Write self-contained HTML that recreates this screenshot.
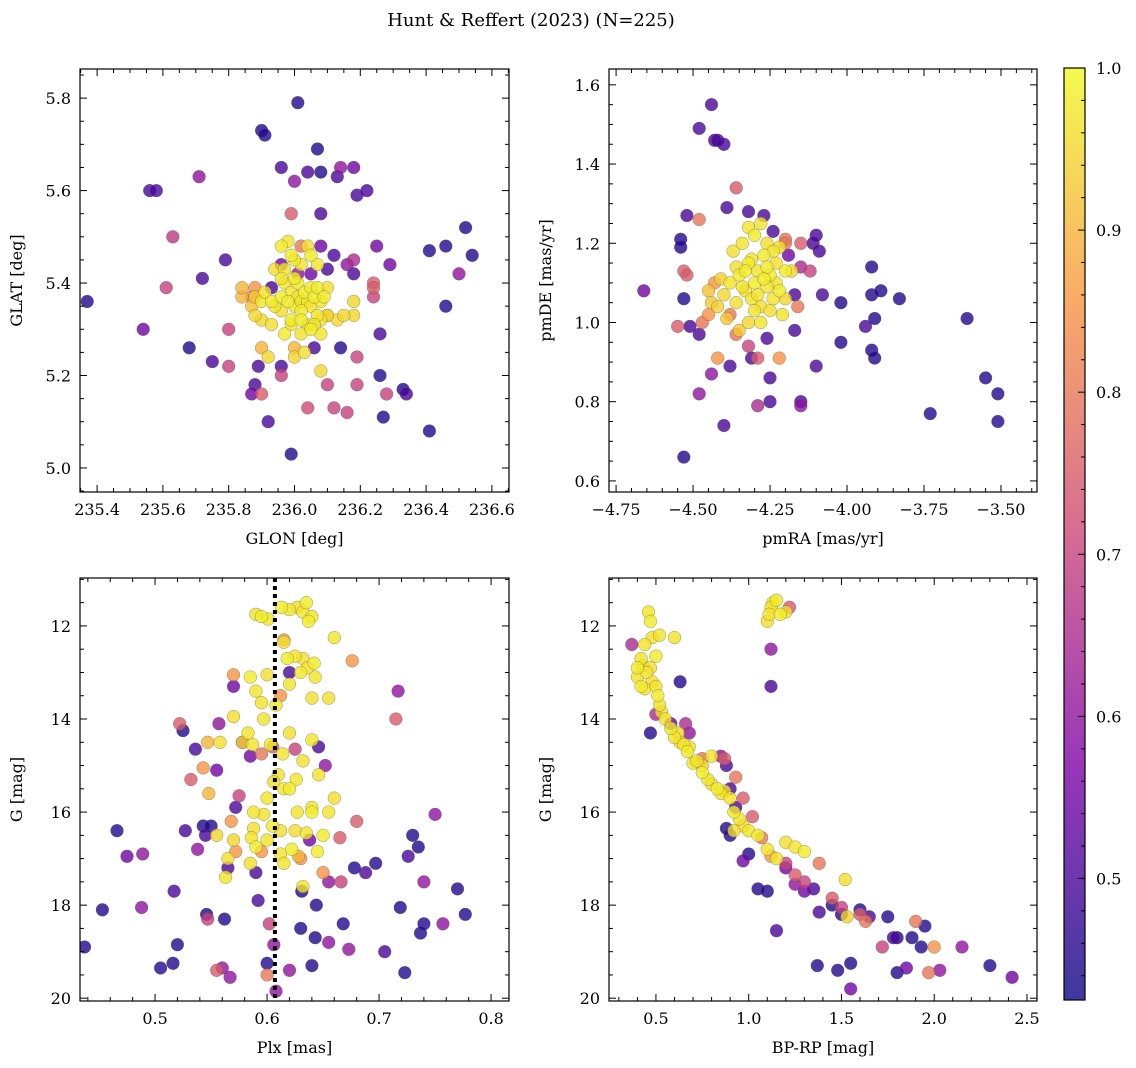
<!DOCTYPE html>
<html><head><meta charset="utf-8">
<style>
html,body{margin:0;padding:0;background:#fff;}
svg{display:block;font-family:"DejaVu Serif","Liberation Serif",serif;}
</style></head>
<body>
<svg id="chart" width="1136" height="1068" viewBox="0 0 1136 1068" xmlns="http://www.w3.org/2000/svg">
<defs>
<linearGradient id="cbgrad" x1="0" y1="1" x2="0" y2="0">
<stop offset="0" stop-color="#0d0887"/><stop offset="0.25" stop-color="#7e03a8"/><stop offset="0.5" stop-color="#cc4778"/><stop offset="0.75" stop-color="#f89540"/><stop offset="1" stop-color="#f0f921"/>
</linearGradient>
</defs>
<text x="531" y="26" font-size="18" text-anchor="middle">Hunt &amp; Reffert (2023) (N=225)</text>
</svg>
<script>
// ---- data ----
const p1x=[235.37,235.54,235.56,235.58,235.61,235.63,235.68,235.71,235.72,235.75,235.80,235.80,235.79,235.88,235.87,235.90,235.91,235.92,235.90,235.96,235.96,235.99,236.00,236.01,236.04,236.07,236.08,236.08,236.13,236.14,236.18,236.19,236.22,236.25,236.29,236.26,236.26,236.27,236.28,236.33,236.34,236.41,236.41,236.46,236.46,236.50,236.52,236.54,236.16,236.19,236.19,236.12,236.04,236.10,236.06,236.14,235.99,235.89,235.96,236.18,236.24,236.24,236.24,236.16,236.10,236.18,235.96,236.01,236.05,235.93,236.08,236.12,236.02,235.88,235.87,236.08,236.10,
235.90,235.91,235.93,235.94,235.96,235.96,235.97,235.98,235.99,235.99,236.00,236.01,236.01,236.02,236.02,236.03,236.04,236.04,236.05,236.05,236.06,236.07,236.07,236.08,236.08,236.09,235.97,235.99,236.02,236.04,235.96,235.98,236.00,236.05,236.07,235.94,235.97,236.02,236.05,236.08,235.93,235.90,235.87,235.88,236.00,236.03,236.02,235.99,236.06,236.10,235.96,236.00,236.18,236.13,236.18,236.15,235.84,235.84,235.88,235.90,236.00,235.92,236.10];
const p1y=[5.36,5.30,5.60,5.60,5.39,5.50,5.26,5.63,5.41,5.23,5.30,5.22,5.45,5.18,5.16,5.73,5.72,5.10,5.16,5.65,5.22,5.03,5.62,5.79,5.64,5.69,5.64,5.55,5.63,5.65,5.65,5.59,5.60,5.48,5.44,5.29,5.20,5.11,5.16,5.17,5.16,5.08,5.47,5.48,5.35,5.42,5.52,5.46,5.12,5.18,5.24,5.13,5.13,5.18,5.26,5.26,5.55,5.22,5.20,5.45,5.40,5.39,5.37,5.44,5.43,5.42,5.44,5.42,5.42,5.39,5.48,5.46,5.48,5.39,5.37,5.21,5.33,
5.36,5.38,5.36,5.35,5.37,5.34,5.40,5.36,5.38,5.32,5.35,5.40,5.37,5.34,5.36,5.38,5.31,5.36,5.39,5.35,5.37,5.33,5.39,5.36,5.32,5.37,5.43,5.46,5.44,5.48,5.48,5.49,5.45,5.46,5.44,5.43,5.29,5.29,5.30,5.29,5.31,5.32,5.35,5.37,5.24,5.25,5.32,5.31,5.31,5.39,5.41,5.41,5.36,5.32,5.33,5.33,5.37,5.39,5.33,5.26,5.26,5.24,5.33];
const p1p=[0.45,0.55,0.5,0.5,0.7,0.68,0.45,0.6,0.5,0.5,0.7,0.7,0.5,0.5,0.55,0.45,0.45,0.5,0.75,0.5,0.5,0.45,0.6,0.45,0.5,0.45,0.45,0.5,0.5,0.6,0.55,0.5,0.5,0.55,0.55,0.5,0.45,0.45,0.7,0.45,0.5,0.45,0.45,0.45,0.45,0.6,0.45,0.45,0.7,0.7,0.7,0.7,0.72,0.7,0.5,0.45,0.75,0.5,0.7,0.65,0.75,0.75,0.7,0.6,0.5,0.5,0.55,0.6,0.55,0.5,0.55,0.5,0.8,0.85,0.82,0.95,0.92,
0.97,0.97,0.98,0.97,0.98,0.96,0.97,0.98,0.97,0.98,0.97,0.98,0.97,0.98,0.97,0.98,0.96,0.97,0.98,0.97,0.98,0.97,0.98,0.97,0.96,0.98,0.97,0.98,0.97,0.96,0.98,0.97,0.97,0.98,0.97,0.96,0.98,0.97,0.98,0.97,0.96,0.95,0.92,0.93,0.95,0.96,0.98,0.97,0.97,0.96,0.97,0.98,0.95,0.95,0.95,0.95,0.9,0.9,0.95,0.9,0.9,0.95,0.95];

const p2x=[-4.66,-4.54,-4.54,-4.53,-4.52,-4.53,-4.52,-4.53,-4.55,-4.51,-4.48,-4.44,-4.43,-4.42,-4.40,-4.48,-4.48,-4.48,-4.44,-4.42,-4.38,-4.40,-4.39,-4.36,-4.32,-4.32,-4.29,-4.27,-4.25,-4.25,-4.26,-4.31,-4.29,-4.22,-4.24,-4.19,-4.17,-4.17,-4.16,-4.15,-4.20,-4.15,-4.15,-4.11,-4.10,-4.10,-4.09,-4.08,-4.02,-4.02,-3.94,-3.92,-3.92,-3.91,-3.92,-3.91,-3.89,-3.83,-3.73,-3.61,-3.55,-3.51,-3.51,
-4.43,-4.45,-4.47,-4.38,-4.20,-4.15,-4.12,-4.36,
-4.38,-4.36,-4.35,-4.33,-4.32,-4.31,-4.30,-4.29,-4.28,-4.27,-4.26,-4.25,-4.24,-4.23,-4.22,-4.21,-4.20,-4.40,-4.42,-4.44,-4.37,-4.34,-4.30,-4.28,-4.26,-4.32,-4.28,-4.35,-4.25,-4.33,-4.29,-4.27,-4.31,-4.36,-4.24,-4.18,-4.22,-4.39,-4.41,-4.30,-4.26,-4.34,-4.23,-4.45,-4.32,-4.20];
const p2y=[1.08,1.21,1.19,0.66,1.27,1.06,1.12,1.13,0.99,0.99,1.49,1.55,1.46,1.46,1.45,1.26,0.97,0.82,0.87,0.91,0.89,0.74,1.29,1.34,1.28,0.94,0.79,1.27,0.86,0.80,0.96,0.91,0.91,0.91,1.23,1.17,1.07,0.98,1.04,1.14,1.21,0.80,0.79,1.20,1.22,0.89,1.18,1.07,1.05,0.95,0.99,1.14,1.07,1.01,0.93,0.91,1.08,1.06,0.77,1.01,0.86,0.82,0.75,
1.10,1.02,1.00,1.02,1.20,1.20,1.13,0.97,
1.10,1.05,1.12,1.08,1.15,1.06,1.10,1.13,1.04,1.17,1.09,1.12,1.06,1.15,1.08,1.02,1.13,1.07,1.04,1.05,1.18,1.20,1.22,1.25,1.20,1.00,1.00,0.98,1.03,1.13,1.07,1.11,1.16,1.14,1.18,1.13,1.19,1.01,1.11,1.03,1.14,1.09,1.10,1.08,1.24,1.06];
const p2p=[0.55,0.45,0.45,0.45,0.5,0.45,0.75,0.75,0.75,0.5,0.5,0.5,0.5,0.5,0.5,0.8,0.5,0.6,0.6,0.85,0.5,0.5,0.5,0.75,0.5,0.7,0.65,0.5,0.5,0.5,0.5,0.5,0.75,0.85,0.5,0.55,0.5,0.5,0.8,0.65,0.8,0.5,0.6,0.5,0.5,0.5,0.5,0.5,0.45,0.45,0.5,0.45,0.45,0.45,0.45,0.45,0.45,0.45,0.45,0.45,0.45,0.45,0.45,
0.85,0.85,0.8,0.8,0.8,0.75,0.7,0.8,
0.97,0.96,0.98,0.97,0.98,0.97,0.98,0.97,0.96,0.98,0.97,0.98,0.97,0.96,0.98,0.97,0.98,0.95,0.94,0.93,0.96,0.97,0.98,0.97,0.96,0.95,0.97,0.93,0.96,0.98,0.97,0.98,0.97,0.96,0.97,0.95,0.96,0.93,0.94,0.97,0.98,0.97,0.96,0.92,0.97,0.95];

const p3x=[0.437,0.453,0.466,0.475,0.488,0.489,0.505,0.516,0.517,0.520,0.522,0.525,0.527,0.532,0.536,0.538,0.543,0.545,0.546,0.547,0.550,0.555,0.557,0.560,0.562,0.565,0.567,0.570,0.572,0.575,0.578,0.585,0.590,0.592,0.600,0.602,0.606,0.608,0.620,0.620,0.630,0.631,0.638,0.640,0.644,0.643,0.646,0.652,0.655,0.655,0.665,0.666,0.668,0.673,0.678,0.680,0.688,0.697,0.705,0.715,0.717,0.719,0.723,0.726,0.730,0.735,0.737,0.740,0.740,0.750,0.757,0.770,0.777,
0.590,0.595,0.601,0.613,0.620,0.627,0.635,0.632,0.637,0.640,0.615,0.660,0.618,0.625,0.632,0.630,0.636,0.642,0.643,0.640,0.620,0.585,0.590,0.600,0.595,0.608,0.597,0.570,0.583,0.578,0.587,0.558,0.603,0.614,0.620,0.626,0.620,0.615,0.632,0.646,0.640,0.600,0.610,0.597,0.605,0.588,0.588,0.586,0.590,0.600,0.612,0.612,0.622,0.627,0.625,0.640,0.650,0.655,0.660,0.635,0.645,0.615,0.606,0.570,0.565,0.563,0.555,0.585,0.632,0.655,0.640,
0.543,0.548,0.547,0.568,0.572,0.595,0.605,0.595,0.570,0.676,0.615,0.630,0.612,0.628,0.650,0.600,0.555,0.625];
const p3y=[18.9,18.1,16.4,16.95,18.05,16.9,19.35,19.25,17.7,18.85,14.1,14.25,16.4,15.3,14.65,16.8,16.3,16.5,18.2,18.3,16.3,15.1,14.1,19.35,18.3,17.2,19.55,13.3,15.9,15.65,14.5,14.8,17.3,17.9,19.25,18.4,18.85,19.85,19.4,13.0,18.5,17.7,16.6,19.3,18.0,18.7,14.6,15.0,18.8,17.5,16.55,17.5,18.4,18.95,17.2,16.2,17.3,17.1,19.0,14.0,13.4,18.05,19.45,16.95,16.5,16.75,18.6,17.5,18.4,16.05,18.4,17.65,18.2,
11.75,11.8,11.85,11.6,11.65,11.6,11.5,11.7,11.9,11.8,12.35,12.25,12.7,12.65,12.7,13.0,12.9,12.8,13.1,13.55,13.25,13.1,13.4,13.05,13.65,13.7,14.0,13.95,14.3,14.5,14.55,14.5,14.55,14.75,14.3,15.3,15.5,15.5,14.9,15.2,16.0,15.7,15.2,16.05,16.3,16.0,16.35,16.55,16.75,16.6,16.4,16.9,16.8,16.0,16.4,15.9,16.5,16.0,15.7,16.45,16.85,17.1,15.35,16.6,17.0,17.4,16.5,17.1,17.6,13.55,14.45,
15.05,15.6,14.5,16.2,16.85,16.85,14.6,14.75,13.05,12.75,12.3,17.0,13.5,16.95,17.3,19.5,19.4,14.65];
const p3p=[0.45,0.45,0.45,0.55,0.6,0.6,0.45,0.45,0.5,0.45,0.75,0.45,0.5,0.75,0.5,0.6,0.45,0.5,0.45,0.7,0.45,0.55,0.6,0.6,0.45,0.5,0.6,0.55,0.5,0.7,0.6,0.55,0.5,0.5,0.45,0.7,0.6,0.6,0.6,0.5,0.45,0.45,0.55,0.45,0.45,0.45,0.5,0.6,0.6,0.6,0.75,0.7,0.45,0.6,0.45,0.75,0.5,0.45,0.5,0.75,0.6,0.45,0.45,0.5,0.45,0.45,0.45,0.6,0.45,0.6,0.6,0.45,0.45,
0.97,0.98,0.97,0.98,0.97,0.96,0.98,0.97,0.98,0.97,0.96,0.97,0.98,0.97,0.96,0.98,0.97,0.98,0.97,0.96,0.97,0.98,0.97,0.96,0.97,0.98,0.97,0.96,0.97,0.95,0.97,0.96,0.98,0.97,0.96,0.97,0.98,0.97,0.96,0.97,0.98,0.97,0.96,0.97,0.98,0.97,0.96,0.97,0.98,0.97,0.96,0.97,0.98,0.97,0.96,0.97,0.98,0.97,0.96,0.97,0.98,0.97,0.96,0.95,0.96,0.97,0.95,0.96,0.97,0.96,0.97,
0.85,0.9,0.9,0.85,0.85,0.85,0.75,0.8,0.85,0.85,0.85,0.85,0.85,0.9,0.85,0.8,0.75,0.7];

const p4x=[0.46,0.47,0.52,0.48,0.42,0.40,0.40,0.43,0.45,0.42,0.44,0.48,0.50,0.50,0.60,0.47,0.44,0.51,0.52,0.53,0.55,0.58,0.60,0.63,0.65,0.67,0.70,0.68,0.72,0.75,0.78,0.80,0.80,0.83,0.85,0.87,0.90,0.92,0.95,0.97,1.00,1.05,1.10,1.20,1.25,1.30,1.15,1.52,1.53,1.13,1.15,1.12,1.10,1.11,1.17,1.20,0.62,0.92,0.75,
0.75,0.87,0.93,0.97,1.02,1.07,1.12,1.20,1.25,1.30,1.38,1.45,1.50,1.60,1.63,1.90,1.97,2.00,1.22,0.66,0.50,
0.37,0.47,0.63,0.58,0.68,0.85,0.88,0.90,0.93,0.88,0.90,0.97,1.05,1.10,1.15,1.12,1.12,1.20,1.25,1.30,1.35,1.37,1.45,1.50,1.48,1.55,1.55,1.60,1.65,1.75,1.78,1.80,1.80,1.85,1.88,1.93,1.95,2.03,2.15,2.30,2.42,1.72,1.00,1.38];
const p4y=[11.7,11.9,12.2,12.25,12.7,12.9,13.1,12.85,13.0,13.3,13.35,13.2,13.3,12.65,12.25,12.9,12.4,13.5,13.7,13.85,14.0,14.2,14.4,14.5,14.55,14.7,14.95,14.6,14.9,15.15,15.3,15.4,14.8,15.5,15.6,15.55,15.7,16.0,16.15,16.3,16.4,16.5,16.8,16.65,16.75,16.85,17.0,17.45,18.25,11.5,11.45,11.6,11.9,11.75,11.75,11.7,14.3,16.4,15.0,
14.85,14.85,15.25,15.7,16.1,16.55,16.95,17.1,17.35,17.5,17.1,17.85,18.05,18.2,18.35,18.35,19.45,18.9,11.6,14.1,13.9,
12.4,14.3,13.2,14.1,14.3,14.8,15.0,15.5,15.9,16.35,16.5,17.05,17.65,17.7,18.55,12.5,13.3,17.2,17.55,17.7,17.65,19.3,18.0,18.2,19.4,19.25,19.8,18.1,18.25,18.25,18.7,18.7,19.45,19.35,18.7,18.9,18.45,19.4,18.9,19.3,19.55,18.9,16.9,18.15];
const p4p=[0.97,0.98,0.97,0.96,0.97,0.98,0.97,0.96,0.97,0.98,0.97,0.96,0.97,0.98,0.97,0.96,0.97,0.98,0.97,0.96,0.97,0.98,0.97,0.96,0.97,0.98,0.97,0.96,0.97,0.98,0.97,0.96,0.97,0.98,0.97,0.96,0.97,0.98,0.97,0.96,0.97,0.98,0.97,0.96,0.97,0.98,0.97,0.96,0.95,0.97,0.98,0.97,0.96,0.97,0.98,0.96,0.95,0.96,0.95,
0.8,0.75,0.8,0.75,0.75,0.8,0.85,0.7,0.75,0.7,0.8,0.75,0.7,0.75,0.8,0.8,0.8,0.85,0.75,0.65,0.65,
0.65,0.45,0.45,0.55,0.6,0.6,0.5,0.5,0.5,0.45,0.45,0.55,0.45,0.45,0.5,0.6,0.5,0.55,0.6,0.55,0.5,0.45,0.45,0.45,0.45,0.45,0.55,0.45,0.5,0.45,0.5,0.45,0.45,0.55,0.45,0.45,0.45,0.6,0.6,0.45,0.55,0.7,0.45,0.5];

const p1xTicks=[235.4,235.6,235.8,236.0,236.2,236.4,236.6];
const p1yTicks=[5.0,5.2,5.4,5.6,5.8];
const p2xTicks=[-4.75,-4.50,-4.25,-4.00,-3.75,-3.50];
const p2yTicks=[0.6,0.8,1.0,1.2,1.4,1.6];
const p3xTicks=[0.5,0.6,0.7,0.8];
const gTicks=[12,14,16,18,20];
const p4xTicks=[0.5,1.0,1.5,2.0,2.5];
const cbTicks=[0.5,0.6,0.7,0.8,0.9,1.0];
const plxLine=0.607;
const cMin=0.425, cMax=1.0;

// ---- drawing ----
const svg=document.getElementById('chart');
const NS='http://www.w3.org/2000/svg';
function mk(tag,attrs,parent){const e=document.createElementNS(NS,tag);for(const k in attrs)e.setAttribute(k,attrs[k]);(parent||svg).appendChild(e);return e;}
const stops=[[0,[13,8,135]],[0.25,[126,3,168]],[0.5,[204,71,120]],[0.75,[248,149,64]],[1,[240,249,33]]];
function plasma(v){let t=(v-cMin)/(cMax-cMin);t=Math.max(0,Math.min(1,t));for(let i=0;i<stops.length-1;i++){const a=stops[i],b=stops[i+1];if(t<=b[0]){const f=(t-a[0])/(b[0]-a[0]);const c=a[1].map((x,j)=>Math.round(x+(b[1][j]-x)*f));return 'rgb('+c.join(',')+')';}}return 'rgb(240,249,33)';}

function panel(cfg){
  const {name,L,T,R,B,x0,x1,y0,y1,xs,ys,ps,xt,yt,xmin,ymin,xfmt,yfmt,xlabel,ylabel,inv}=cfg;
  const g=mk('g',{});  
  const sx=v=>L+(v-x0)/(x1-x0)*(R-L);
  const sy=v=>inv? T+(v-y1)/(y0-y1)*(B-T) : B-(v-y0)/(y1-y0)*(B-T);
  const clipId=name+'-clip';
  const cp=mk('clipPath',{id:clipId},g); mk('rect',{x:L,y:T,width:R-L,height:B-T},cp);
  const pts=mk('g',{'clip-path':'url(#'+clipId+')'},g);
   
  const idx=xs.map((_,i)=>i).sort((a,b)=>ps[a]-ps[b]);
  idx.forEach(i=>{const c=mk('circle',{cx:sx(xs[i]).toFixed(1),cy:sy(ys[i]).toFixed(1),r:6.4,fill:plasma(ps[i]),'fill-opacity':0.8,stroke:'#555','stroke-opacity':0.6,'stroke-width':0.5},pts);
     });
  if(cfg.vline!==undefined){const l=mk('line',{x1:sx(cfg.vline),x2:sx(cfg.vline),y1:T,y2:B,stroke:'#000','stroke-width':4,'stroke-dasharray':'4,4'},g);
     }
  mk('rect',{x:L,y:T,width:R-L,height:B-T,fill:'none',stroke:'#000','stroke-width':1.2},g);
  const tk=mk('g',{stroke:'#000','stroke-width':1},g);
  const lo=Math.min(x0,x1),hi=Math.max(x0,x1);
  for(let v=Math.ceil(lo/xmin-1e-6)*xmin;v<=hi+1e-9;v+=xmin){const px=sx(v);const maj=xt.some(t=>Math.abs(t-v)<xmin/10);const len=maj?7:4;
    mk('line',{x1:px,x2:px,y1:B,y2:B-len},tk);mk('line',{x1:px,x2:px,y1:T,y2:T+len},tk);}
  const ylo=Math.min(y0,y1),yhi=Math.max(y0,y1);
  for(let v=Math.ceil(ylo/ymin-1e-6)*ymin;v<=yhi+1e-9;v+=ymin){const py=sy(v);const maj=yt.some(t=>Math.abs(t-v)<ymin/10);const len=maj?7:4;
    mk('line',{x1:L,x2:L+len,y1:py,y2:py},tk);mk('line',{x1:R,x2:R-len,y1:py,y2:py},tk);}
  xt.forEach(v=>{const t=mk('text',{x:sx(v),y:B+23,'font-size':16,'text-anchor':'middle'},g);t.textContent=xfmt(v);
     });
  yt.forEach(v=>{const t=mk('text',{x:L-9,y:sy(v)+6,'font-size':16,'text-anchor':'end'},g);t.textContent=yfmt(v);
     });
  const xl=mk('text',{x:(L+R)/2,y:B+52,'font-size':16,'text-anchor':'middle'},g);xl.textContent=xlabel;
   
  const ylx=L-58; const yl=mk('text',{x:ylx,y:(T+B)/2,'font-size':16,'text-anchor':'middle',transform:'rotate(-90 '+ylx+' '+(T+B)/2+')'},g);yl.textContent=ylabel;
   
}
const f1=v=>v.toFixed(1), f2=v=>(v<0?'\u2212':'')+Math.abs(v).toFixed(2), f0=v=>String(v);
panel({name:'glon-glat-panel',L:80,T:69,R:509,B:492,x0:235.348,x1:236.652,y0:4.948,y1:5.863,xs:p1x,ys:p1y,ps:p1p,xt:p1xTicks,yt:p1yTicks,xmin:0.05,ymin:0.05,xfmt:f1,yfmt:f1,xlabel:'GLON [deg]',ylabel:'GLAT [deg]'});
panel({name:'proper-motion-panel',L:609,T:69,R:1037,B:492,x0:-4.773,x1:-3.383,y0:0.572,y1:1.640,xs:p2x,ys:p2y,ps:p2p,xt:p2xTicks,yt:p2yTicks,xmin:0.05,ymin:0.05,xfmt:f2,yfmt:f1,xlabel:'pmRA [mas/yr]',ylabel:'pmDE [mas/yr]'});
panel({name:'parallax-mag-panel',L:80,T:578,R:509,B:1001,x0:0.433,x1:0.816,y0:20.06,y1:10.97,inv:true,xs:p3x,ys:p3y,ps:p3p,xt:p3xTicks,yt:gTicks,xmin:0.02,ymin:0.5,xfmt:f1,yfmt:f0,xlabel:'Plx [mas]',ylabel:'G [mag]',vline:plxLine});
panel({name:'cmd-panel',L:609,T:578,R:1037,B:1001,x0:0.247,x1:2.554,y0:20.06,y1:10.97,inv:true,xs:p4x,ys:p4y,ps:p4p,xt:p4xTicks,yt:gTicks,xmin:0.1,ymin:0.5,xfmt:f1,yfmt:f0,xlabel:'BP-RP [mag]',ylabel:'G [mag]'});

// colorbar
const cb=mk('g',{});  
const cT=68,cB=1000,cL=1064,cR=1085;
const cy=v=>cB-(v-cMin)/(cMax-cMin)*(cB-cT);
mk('rect',{x:cL,y:cT,width:cR-cL,height:cB-cT,fill:'url(#cbgrad)','fill-opacity':0.8,stroke:'#000','stroke-width':1.2},cb);
for(let v=0.44;v<=1.0001;v+=0.02){const py=cy(v);const maj=cbTicks.some(t=>Math.abs(t-v)<0.002);mk('line',{x1:cR,x2:cR-(maj?7:4),y1:py,y2:py,stroke:'#000','stroke-width':1},cb);}
cbTicks.forEach(v=>{const t=mk('text',{x:cR+11,y:cy(v)+6,'font-size':16},cb);t.textContent=v.toFixed(1);
   });
</script>
</body></html>
